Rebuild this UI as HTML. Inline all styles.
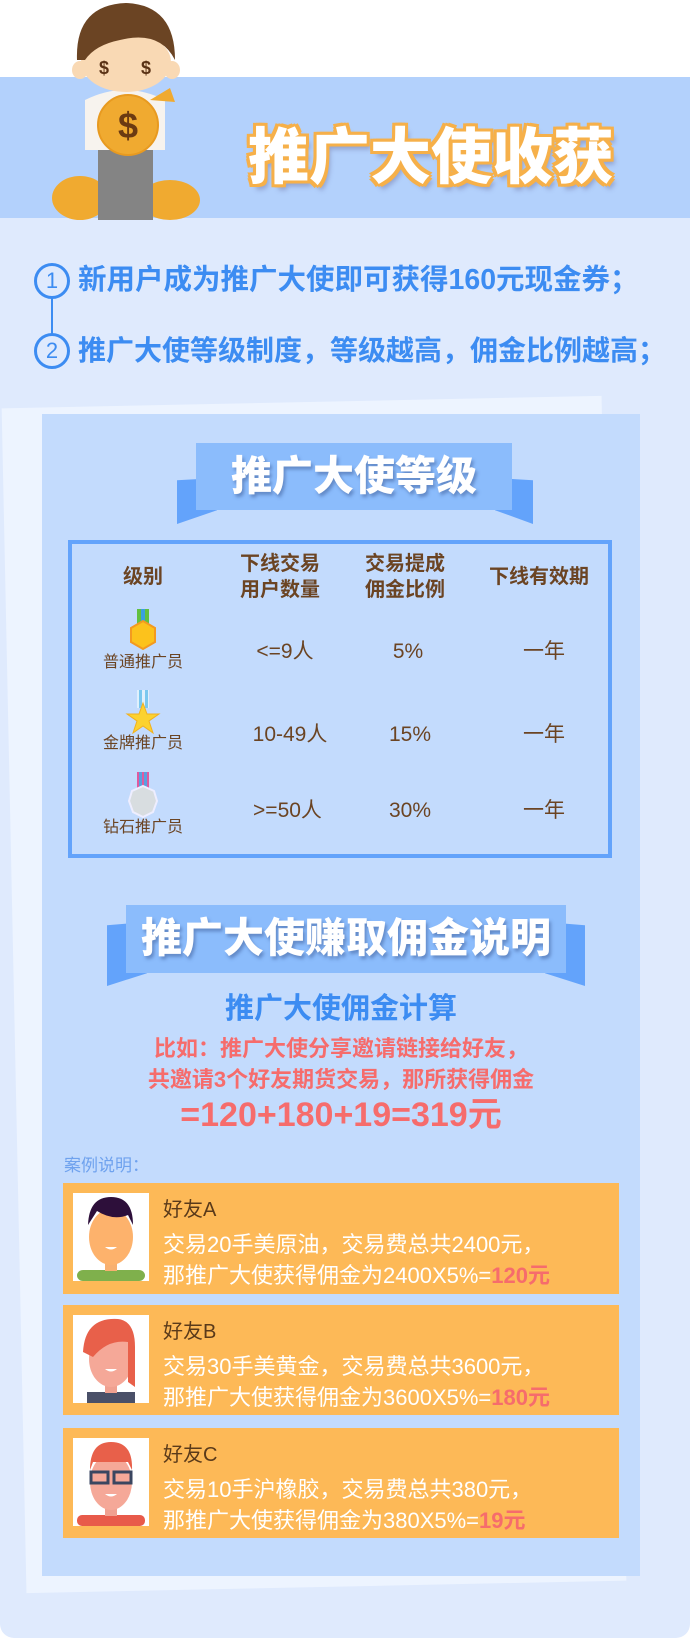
<!DOCTYPE html>
<html><head><meta charset="utf-8">
<style>
*{margin:0;padding:0;box-sizing:border-box}
body{width:690px;height:1638px;position:relative;overflow:hidden;background:#fff;font-family:"Liberation Sans","Noto Sans CJK SC",sans-serif}
.abs{position:absolute}
.cn{font-family:"Liberation Sans","Noto Sans CJK SC",sans-serif}
.c{text-align:center}
</style></head><body>
<div class="abs" style="left:0;top:217px;width:690px;height:1421px;background:#dfeafd;border-radius:0 0 14px 14px"></div>
<div class="abs" style="left:0;top:77px;width:690px;height:141px;background:#b3d1fc"></div>

<svg class="abs" style="left:40px;top:0" width="170" height="220" viewBox="0 0 170 220">
<ellipse cx="40" cy="198" rx="28" ry="22" fill="#f0aa30"/>
<ellipse cx="130" cy="200" rx="30" ry="20" fill="#f0aa30"/>
<rect x="58" y="150" width="55" height="70" fill="#848484"/>
<path d="M45 100 Q85 80 125 100 L125 150 L45 150Z" fill="#f7f3ee"/>
<ellipse cx="86" cy="62" rx="45" ry="30" fill="#f9d9b4"/>
<ellipse cx="40" cy="70" rx="8" ry="9" fill="#f9d9b4"/><ellipse cx="132" cy="70" rx="8" ry="9" fill="#f9d9b4"/>
<path d="M37 60 Q35 5 86 3 Q135 5 135 60 Q120 30 80 40 Q55 45 45 60Z" fill="#6b4423"/>
<text x="64" y="74" font-size="18" font-weight="bold" fill="#5a3215" text-anchor="middle">$</text>
<text x="106" y="74" font-size="18" font-weight="bold" fill="#5a3215" text-anchor="middle">$</text>
<circle cx="88" cy="125" r="30" fill="#f0aa30" stroke="#e89a20" stroke-width="2"/>
<path d="M110 100 L130 88 L135 102 Z" fill="#f0aa30"/>
<text x="88" y="138" font-size="36" font-weight="bold" fill="#6b3a12" text-anchor="middle">$</text>
</svg>

<div class="abs cn" style="left:248px;top:117px;width:440px;font-size:61px;line-height:80px;font-weight:900;color:#fff;white-space:nowrap;text-shadow:0 0 4px #f6b04a,3px 3px 0 #f6b04a,-3px -3px 0 #f6b04a,3px -3px 0 #f6b04a,-3px 3px 0 #f6b04a,0 3px 0 #f6b04a,3px 0 0 #f6b04a,-3px 0 0 #f6b04a,0 -3px 0 #f6b04a,4px 6px 5px rgba(100,100,150,.4)">推广大使收获</div>

<div class="abs" style="left:51px;top:293px;width:2px;height:50px;background:#3c8cf2"></div>
<div class="abs c" style="left:34px;top:263px;width:36px;height:36px;border:3px solid #3c8cf2;border-radius:50%;color:#3c8cf2;font-size:22px;line-height:30px;background:#dfeafd">1</div>
<div class="abs c" style="left:34px;top:333px;width:36px;height:36px;border:3px solid #3c8cf2;border-radius:50%;color:#3c8cf2;font-size:22px;line-height:30px;background:#dfeafd">2</div>
<div class="abs cn" style="left:78px;top:262px;font-size:28.5px;line-height:36px;font-weight:bold;color:#3c8cf2;white-space:nowrap">新用户成为推广大使即可获得160元现金券；</div>
<div class="abs cn" style="left:78px;top:333px;font-size:28px;line-height:36px;font-weight:bold;color:#3c8cf2;white-space:nowrap">推广大使等级制度，等级越高，佣金比例越高；</div>

<div class="abs" style="left:14px;top:402px;width:600px;height:1185px;background:#edf4ff;transform:rotate(-1.2deg)"></div>
<div class="abs" style="left:42px;top:414px;width:598px;height:1162px;background:#c3dbfd"></div>

<!-- ribbon 1 -->
<div class="abs" style="left:177px;top:478px;width:40px;height:46px;background:#63a3fb;clip-path:polygon(0 5%,100% 0,100% 70%,0 100%)"></div>
<div class="abs" style="left:495px;top:478px;width:38px;height:46px;background:#63a3fb;clip-path:polygon(0 0,100% 5%,100% 100%,0 70%)"></div>
<div class="abs c cn" style="left:196px;top:443px;width:316px;height:67px;background:#8bbcfc;color:#fff;font-size:41px;font-weight:900;line-height:66px;text-shadow:2px 3px 3px rgba(60,90,150,.5)">推广大使等级</div>

<!-- table -->
<div class="abs" style="left:68px;top:540px;width:544px;height:318px;border:4px solid #63a3fb;"></div>
<div class="abs" style="left:0;top:0;font-size:20px;color:#6b4423;font-weight:bold;line-height:26px">
<div class="abs c" style="left:93px;top:564px;width:100px">级别</div>
<div class="abs c" style="left:230px;top:551px;width:100px">下线交易<br>用户数量</div>
<div class="abs c" style="left:355px;top:551px;width:100px">交易提成<br>佣金比例</div>
<div class="abs c" style="left:474px;top:564px;width:130px">下线有效期</div>
</div>
<svg class="abs" style="left:128px;top:609px" width="30" height="45"><rect x="9" y="0" width="12" height="16" fill="#62c040"/><rect x="13" y="0" width="4" height="16" fill="#3aa0e0"/><polygon points="15,12 27,19 27,33 15,40 3,33 3,19" fill="#fcc21c" stroke="#f39a20" stroke-width="2"/></svg>
<svg class="abs" style="left:125px;top:690px" width="36" height="45"><rect x="12" y="0" width="12" height="18" fill="#dff0fc"/><rect x="14" y="0" width="3" height="18" fill="#7ac8ef"/><rect x="20" y="0" width="3" height="18" fill="#7ac8ef"/><polygon points="18,13 22,24 34,24 24,31 28,43 18,36 8,43 12,31 2,24 14,24" fill="#fcd230" stroke="#f0b020" stroke-width="1"/></svg>
<svg class="abs" style="left:126px;top:772px" width="34" height="47"><rect x="11" y="0" width="12" height="18" fill="#e05aa0"/><rect x="13" y="0" width="3" height="18" fill="#5aa0e0"/><rect x="18" y="0" width="3" height="18" fill="#5aa0e0"/><polygon points="17,14 28,19 31,29 27,40 17,45 7,40 3,29 6,19" fill="#d8dde0" stroke="#eef" stroke-width="2"/></svg>
<div class="abs" style="font-size:16px;color:#6b4423;line-height:20px">
<div class="abs c" style="left:93px;top:653px;width:100px">普通推广员</div>
<div class="abs c" style="left:93px;top:734px;width:100px">金牌推广员</div>
<div class="abs c" style="left:93px;top:818px;width:100px">钻石推广员</div>
</div>
<div class="abs" style="font-size:21px;color:#6b4423;line-height:26px">
<div class="abs c" style="left:230px;top:639px;width:110px">&lt;=9人</div>
<div class="abs c" style="left:358px;top:639px;width:100px">5%</div>
<div class="abs c" style="left:494px;top:639px;width:100px">一年</div>
<div class="abs c" style="left:230px;top:722px;width:120px">10-49人</div>
<div class="abs c" style="left:360px;top:722px;width:100px">15%</div>
<div class="abs c" style="left:494px;top:722px;width:100px">一年</div>
<div class="abs c" style="left:230px;top:798px;width:115px">&gt;=50人</div>
<div class="abs c" style="left:360px;top:798px;width:100px">30%</div>
<div class="abs c" style="left:494px;top:798px;width:100px">一年</div>
</div>

<!-- ribbon 2 -->
<div class="abs" style="left:107px;top:922px;width:40px;height:64px;background:#63a3fb;clip-path:polygon(0 5%,100% 0,100% 80%,0 100%)"></div>
<div class="abs" style="left:545px;top:922px;width:40px;height:64px;background:#63a3fb;clip-path:polygon(0 0,100% 5%,100% 100%,0 80%)"></div>
<div class="abs c cn" style="left:126px;top:905px;width:440px;height:68px;background:#8bbcfc;color:#fff;font-size:41px;font-weight:900;line-height:66px;white-space:nowrap;text-shadow:2px 3px 3px rgba(60,90,150,.5)">推广大使赚取佣金说明</div>

<div class="abs c cn" style="left:42px;top:991px;width:598px;font-size:29px;line-height:36px;font-weight:bold;color:#3c8cf2">推广大使佣金计算</div>
<div class="abs c cn" style="left:42px;top:1033px;width:598px;font-size:22px;font-weight:bold;color:#f66c6c;line-height:31px">比如：推广大使分享邀请链接给好友，<br>共邀请3个好友期货交易，那所获得佣金</div>
<div class="abs c" style="left:42px;top:1094px;width:598px;font-size:34px;line-height:42px;font-weight:bold;color:#f66c6c">=120+180+19=319元</div>
<div class="abs cn" style="left:64px;top:1151px;font-size:17px;color:#6fa2ee">案例说明：</div>

<!-- cards -->
<div class="abs" style="left:63px;top:1183px;width:556px;height:111px;background:#fdb957"></div>
<div class="abs" style="left:63px;top:1305px;width:556px;height:110px;background:#fdb957"></div>
<div class="abs" style="left:63px;top:1428px;width:556px;height:110px;background:#fdb957"></div>

<svg class="abs" style="left:73px;top:1193px;background:#fff" width="76" height="88"><rect x="4" y="77" width="68" height="11" rx="6" fill="#7fb04c"/><rect x="32" y="66" width="12" height="12" fill="#f8b070"/><ellipse cx="38" cy="44" rx="22" ry="28" fill="#fdb26c"/><path d="M15 32 Q16 4 38 4 Q60 4 60 32 L55 22 Q40 28 24 18 Z" fill="#2d0f3a"/><path d="M32 54 Q38 59 44 54Z" fill="#fff"/></svg>
<svg class="abs" style="left:73px;top:1315px;background:#fff" width="76" height="88"><rect x="14" y="77" width="48" height="11" fill="#4a5068"/><rect x="32" y="66" width="12" height="12" fill="#f0a090"/><ellipse cx="38" cy="44" rx="22" ry="28" fill="#f5a898"/><path d="M10 37 Q12 2 45 4 Q62 6 62 32 L62 72 L55 67 L55 27 Q35 24 20 42 Z" fill="#e8604a"/><path d="M32 54 Q38 59 44 54Z" fill="#fff"/></svg>
<svg class="abs" style="left:73px;top:1438px;background:#fff" width="76" height="88"><rect x="4" y="77" width="68" height="11" rx="5" fill="#e85a4a"/><rect x="32" y="66" width="12" height="12" fill="#f0a090"/><ellipse cx="38" cy="44" rx="21" ry="28" fill="#f5a898"/><path d="M17 32 Q17 4 38 4 Q60 4 59 32 L55 24 L20 24Z" fill="#e8604a"/><rect x="18" y="34" width="17" height="11" fill="none" stroke="#3a4660" stroke-width="3"/><rect x="41" y="34" width="17" height="11" fill="none" stroke="#3a4660" stroke-width="3"/><path d="M32 56 Q38 61 44 56Z" fill="#fff"/></svg>

<div class="abs cn" style="font-size:19px;color:#5a3a1a;line-height:31px">
<div class="abs" style="left:163px;top:1195px;white-space:nowrap;font-size:20px">好友A</div>
<div class="abs" style="left:163px;top:1229px;white-space:nowrap;font-size:22px;color:#fff">交易20手美原油，交易费总共2400元，<br>那推广大使获得佣金为2400X5%=<span style="color:#f66c6c;font-weight:bold">120元</span></div>
<div class="abs" style="left:163px;top:1317px;white-space:nowrap;font-size:20px">好友B</div>
<div class="abs" style="left:163px;top:1351px;white-space:nowrap;font-size:22px;color:#fff">交易30手美黄金，交易费总共3600元，<br>那推广大使获得佣金为3600X5%=<span style="color:#f66c6c;font-weight:bold">180元</span></div>
<div class="abs" style="left:163px;top:1440px;white-space:nowrap;font-size:20px">好友C</div>
<div class="abs" style="left:163px;top:1474px;white-space:nowrap;font-size:22px;color:#fff">交易10手沪橡胶，交易费总共380元，<br>那推广大使获得佣金为380X5%=<span style="color:#f66c6c;font-weight:bold">19元</span></div>
</div>
</body></html>
